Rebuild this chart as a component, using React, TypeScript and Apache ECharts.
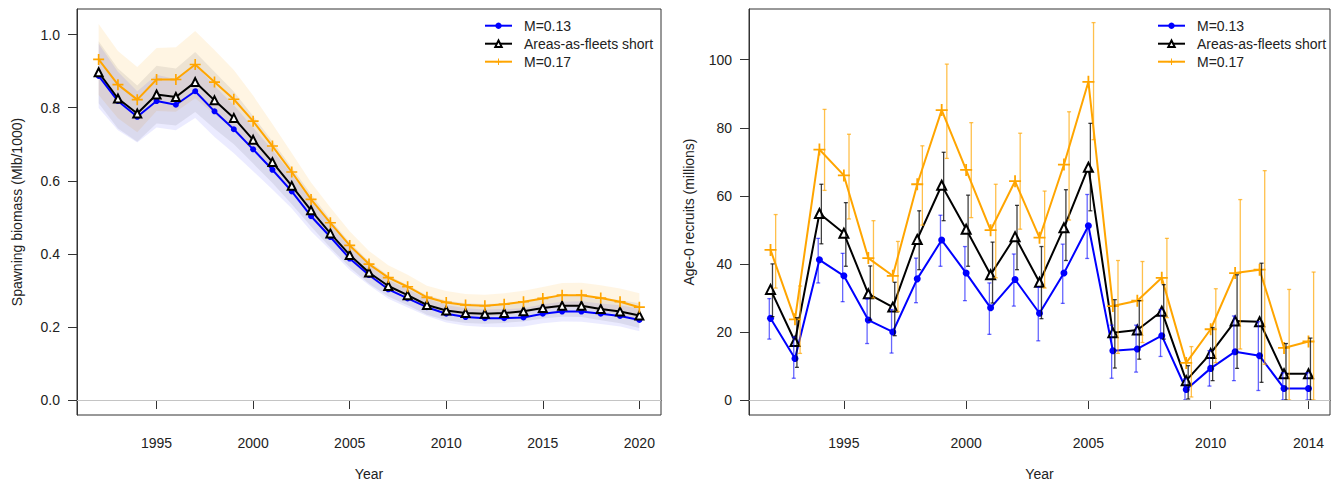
import React, { useEffect, useRef } from "react";
import * as echarts from "echarts";

// ---------- Left panel: spawning biomass ----------
const sbYears = [1992, 1993, 1994, 1995, 1996, 1997, 1998, 1999, 2000, 2001, 2002, 2003, 2004, 2005, 2006, 2007, 2008, 2009, 2010, 2011, 2012, 2013, 2014, 2015, 2016, 2017, 2018, 2019, 2020];
const sbM013 = [0.887, 0.818, 0.775, 0.818, 0.808, 0.845, 0.790, 0.741, 0.686, 0.630, 0.571, 0.503, 0.446, 0.387, 0.342, 0.303, 0.278, 0.254, 0.236, 0.227, 0.224, 0.224, 0.226, 0.236, 0.242, 0.242, 0.236, 0.230, 0.219];
const sbBase = [0.897, 0.825, 0.784, 0.836, 0.829, 0.870, 0.820, 0.772, 0.712, 0.651, 0.586, 0.519, 0.456, 0.397, 0.349, 0.312, 0.287, 0.260, 0.245, 0.238, 0.236, 0.238, 0.243, 0.252, 0.258, 0.258, 0.249, 0.242, 0.231];
const sbM017 = [0.932, 0.863, 0.822, 0.877, 0.877, 0.918, 0.870, 0.823, 0.763, 0.695, 0.624, 0.549, 0.485, 0.423, 0.372, 0.335, 0.310, 0.281, 0.267, 0.260, 0.258, 0.262, 0.269, 0.278, 0.287, 0.287, 0.279, 0.269, 0.254];
// half-widths of the shaded intervals
const sbM013Ci = [0.088, 0.080, 0.070, 0.072, 0.070, 0.073, 0.070, 0.066, 0.060, 0.054, 0.047, 0.041, 0.036, 0.031, 0.028, 0.026, 0.025, 0.024, 0.024, 0.024, 0.024, 0.025, 0.025, 0.026, 0.027, 0.028, 0.028, 0.029, 0.031];
const sbBaseCi = [0.085, 0.082, 0.077, 0.079, 0.078, 0.082, 0.078, 0.072, 0.065, 0.057, 0.050, 0.044, 0.039, 0.034, 0.031, 0.029, 0.028, 0.027, 0.027, 0.027, 0.027, 0.027, 0.028, 0.029, 0.030, 0.031, 0.031, 0.032, 0.034];
const sbM017Ci = [0.097, 0.092, 0.089, 0.086, 0.088, 0.092, 0.088, 0.080, 0.070, 0.060, 0.052, 0.046, 0.042, 0.039, 0.036, 0.034, 0.033, 0.032, 0.031, 0.030, 0.030, 0.030, 0.030, 0.031, 0.033, 0.034, 0.035, 0.036, 0.038];
const sbXTicks = [1995, 2000, 2005, 2010, 2015, 2020];
const sbYTicks = [0, 0.2, 0.4, 0.6, 0.8, 1.0];

// ---------- Right panel: age-0 recruits ----------
const recYears = [1992, 1993, 1994, 1995, 1996, 1997, 1998, 1999, 2000, 2001, 2002, 2003, 2004, 2005, 2006, 2007, 2008, 2009, 2010, 2011, 2012, 2013, 2014];
const recM013 = [24.0, 12.2, 41.2, 36.5, 23.5, 20.0, 35.6, 47.0, 37.3, 27.1, 35.4, 25.5, 37.3, 51.2, 14.5, 15.0, 18.9, 3.1, 9.3, 14.2, 13.0, 3.4, 3.4];
const recM013Lo = [17.9, 6.4, 34.4, 28.9, 16.6, 13.8, 28.6, 39.3, 29.2, 19.3, 27.6, 17.4, 28.4, 41.6, 6.4, 8.2, 12.8, 0, 4.1, 5.7, 2.8, 0, 0];
const recM013Hi = [29.8, 18.5, 47.5, 43.1, 29.7, 26.6, 41.7, 54.3, 45.1, 34.4, 42.9, 33.1, 45.8, 60.4, 22.0, 22.0, 26.6, 6.2, 14.5, 24.7, 23.0, 8.0, 8.0];
const recBase = [32.5, 17.2, 54.8, 49.0, 31.2, 27.3, 47.2, 63.1, 50.2, 36.8, 48.0, 34.6, 50.6, 68.4, 19.8, 20.6, 26.1, 5.7, 13.7, 23.2, 23.0, 7.7, 7.7];
const recBaseLo = [24.5, 9.6, 45.9, 39.3, 23.5, 18.9, 38.3, 52.7, 39.3, 28.5, 38.3, 23.9, 41.0, 55.6, 9.4, 12.0, 17.9, 0.3, 5.7, 9.3, 5.2, 0, 0];
const recBaseHi = [40.0, 24.2, 63.4, 58.0, 39.4, 34.6, 55.6, 72.8, 60.2, 46.4, 57.2, 45.1, 61.8, 81.3, 29.5, 29.2, 33.9, 10.1, 21.3, 36.8, 40.2, 16.6, 18.2];
const recM017 = [44.1, 23.7, 73.6, 66.0, 41.7, 36.5, 63.4, 85.2, 67.6, 49.9, 64.3, 47.7, 69.2, 93.5, 27.6, 29.2, 35.9, 10.9, 20.8, 37.3, 38.3, 15.3, 17.2];
const recM017Lo = [32.9, 13.7, 61.6, 53.2, 30.0, 26.0, 51.4, 71.0, 53.6, 35.9, 50.2, 32.9, 52.9, 76.5, 13.7, 16.9, 24.2, 0.9, 11.0, 15.0, 10.5, 0, 0];
const recM017Hi = [54.5, 33.5, 85.4, 78.1, 52.7, 46.6, 74.7, 98.7, 81.5, 63.4, 78.4, 61.4, 84.7, 110.9, 41.0, 40.7, 47.5, 15.7, 32.7, 58.9, 67.4, 32.5, 37.6];
const recXTicks = [1995, 2000, 2005, 2010, 2014];
const recYTicks = [0, 20, 40, 60, 80, 100];

const seriesNames = ["M=0.13", "Areas-as-fleets short", "M=0.17"];

const BLUE = "#0000ff";
const BLACK = "#000000";
const ORANGE = "#ffa500";
const PLUS = "path://M4.25,0H5.75V4.25H10V5.75H5.75V10H4.25V5.75H0V4.25H4.25Z";
const FONT = "'Liberation Sans', Arial, sans-serif";
const TXT = "#222";

function pairs(xs: number[], ys: number[]) {
  return xs.map((x, i) => [x, ys[i]]);
}

// shaded interval drawn as one polygon through the axis scales
function bandSeries(vals: number[], ci: number[], color: string) {
  return {
    type: "custom",
    name: "band",
    xAxisIndex: 0,
    yAxisIndex: 0,
    silent: true,
    z: 1,
    encode: { x: 0, y: [1, 2] },
    data: sbYears.map((y, i) => [y, vals[i] - ci[i], vals[i] + ci[i]]),
    renderItem: (params: any, api: any) => {
      if (params.dataIndexInside !== 0) return null;
      const n = params.dataInsideLength;
      const top: number[][] = [];
      const bottom: number[][] = [];
      for (let i = 0; i < n; i++) {
        const x = api.value(0, i);
        top.push(api.coord([x, api.value(2, i)]));
        bottom.push(api.coord([x, api.value(1, i)]));
      }
      const points = top.concat(bottom.reverse());
      return {
        type: "polygon",
        shape: { points },
        style: { fill: color, stroke: "none" },
      };
    },
  };
}

function errorBars(lo: number[], hi: number[], offset: number, color: string) {
  return {
    type: "custom",
    name: "err",
    xAxisIndex: 1,
    yAxisIndex: 1,
    silent: true,
    z: 4,
    encode: { x: 0, y: [1, 2] },
    data: recYears.map((y, i) => [y + offset, lo[i], hi[i]]),
    renderItem: (params: any, api: any) => {
      const x = api.value(0);
      const p1 = api.coord([x, api.value(1)]);
      const p2 = api.coord([x, api.value(2)]);
      const cap = 2;
      const st = { stroke: color, lineWidth: 1.3 };
      return {
        type: "group",
        children: [
          { type: "line", shape: { x1: p1[0], y1: p1[1], x2: p2[0], y2: p2[1] }, style: st },
          { type: "line", shape: { x1: p1[0] - cap, y1: p1[1], x2: p1[0] + cap, y2: p1[1] }, style: st },
          { type: "line", shape: { x1: p2[0] - cap, y1: p2[1], x2: p2[0] + cap, y2: p2[1] }, style: st },
        ],
      };
    },
  };
}

const zeroLine = {
  silent: true,
  symbol: ["none", "none"],
  label: { show: false },
  lineStyle: { color: "#c4c4c4", width: 1, type: "solid" },
  data: [{ yAxis: 0 }],
};

function xAxis(gridIndex: number, min: number, max: number, ticks: number[]) {
  return {
    type: "value",
    gridIndex,
    min,
    max,
    name: "Year",
    nameLocation: "middle",
    nameGap: 52,
    nameTextStyle: { fontSize: 14, color: TXT, fontFamily: FONT },
    axisLine: { show: true, lineStyle: { color: "#333", width: 1 } },
    axisTick: { show: true, length: 9, customValues: ticks, lineStyle: { color: "#333" } },
    axisLabel: {
      customValues: ticks,
      margin: 21,
      fontSize: 14,
      color: TXT,
      fontFamily: FONT,
      formatter: (v: number) => String(Math.round(v)),
    },
    splitLine: { show: false },
  };
}

function yAxis(gridIndex: number, min: number, max: number, ticks: number[], name: string, digits: number) {
  return {
    type: "value",
    gridIndex,
    min,
    max,
    name,
    nameLocation: "middle",
    nameGap: 53,
    nameTextStyle: { fontSize: 14, color: TXT, fontFamily: FONT },
    axisLine: { show: true, lineStyle: { color: "#333", width: 1 } },
    axisTick: { show: true, length: 9, customValues: ticks, lineStyle: { color: "#333" } },
    axisLabel: {
      customValues: ticks,
      margin: 17,
      fontSize: 14,
      color: TXT,
      fontFamily: FONT,
      formatter: (v: number) => v.toFixed(digits),
    },
    splitLine: { show: false },
  };
}

function legend(left: number) {
  return {
    data: seriesNames,
    left,
    top: 18.7,
    padding: 0,
    orient: "vertical",
    itemWidth: 27,
    itemHeight: 8,
    itemGap: 4,
    selectedMode: false,
    textStyle: { fontSize: 14, color: TXT, fontFamily: FONT, padding: [0, 0, 0, 7] },
  };
}

function lineSeries(
  name: string,
  axis: number,
  xs: number[],
  ys: number[],
  color: string,
  symbol: string,
  size: number,
  extra: any = {}
) {
  const isEmpty = symbol.indexOf("empty") === 0;
  return {
    type: "line",
    name,
    xAxisIndex: axis,
    yAxisIndex: axis,
    data: pairs(xs, ys),
    symbol,
    symbolSize: size,
    showSymbol: true,
    lineStyle: { color, width: 2 },
    itemStyle: isEmpty ? { color, borderColor: color, borderWidth: 1.3 } : { color, borderWidth: 0 },
    emphasis: { disabled: true },
    silent: true,
    z: 3,
    ...extra,
  };
}

export default function App() {
  const ref = useRef<HTMLDivElement>(null);

  useEffect(() => {
    if (!ref.current) return;
    const chart = echarts.init(ref.current, null, { renderer: "svg" });
    const option = {
      animation: false,
      backgroundColor: "#ffffff",
      textStyle: { fontFamily: FONT },
      grid: [
        { left: 77, top: 9, width: 584, height: 409, show: true, borderColor: "#333", borderWidth: 1, backgroundColor: "transparent", containLabel: false },
        { left: 749, top: 9, width: 581, height: 409, show: true, borderColor: "#333", borderWidth: 1, backgroundColor: "transparent", containLabel: false },
      ],
      xAxis: [xAxis(0, 1990.88, 2021.12, sbXTicks), xAxis(1, 1991.12, 2014.88, recXTicks)],
      yAxis: [
        yAxis(0, -0.041, 1.07, sbYTicks, "Spawning biomass (Mlb/1000)", 1),
        yAxis(1, -4.4, 114.9, recYTicks, "Age-0 recruits (millions)", 0),
      ],
      legend: [legend(484), legend(1157)],
      series: [
        bandSeries(sbM017, sbM017Ci, "rgba(255,165,0,0.11)"),
        bandSeries(sbBase, sbBaseCi, "rgba(0,0,0,0.07)"),
        bandSeries(sbM013, sbM013Ci, "rgba(0,0,255,0.08)"),
        lineSeries(seriesNames[0], 0, sbYears, sbM013, BLUE, "circle", 6, { markLine: zeroLine }),
        lineSeries(seriesNames[1], 0, sbYears, sbBase, BLACK, "emptyTriangle", 8),
        lineSeries(seriesNames[2], 0, sbYears, sbM017, ORANGE, PLUS, 11),
        lineSeries(seriesNames[0], 1, recYears, recM013, BLUE, "circle", 7, { markLine: zeroLine }),
        lineSeries(seriesNames[1], 1, recYears, recBase, BLACK, "emptyTriangle", 9),
        lineSeries(seriesNames[2], 1, recYears, recM017, ORANGE, PLUS, 12),
        errorBars(recM013Lo, recM013Hi, -0.05, "rgba(0,0,255,0.6)"),
        errorBars(recBaseLo, recBaseHi, 0.08, "rgba(0,0,0,0.75)"),
        errorBars(recM017Lo, recM017Hi, 0.21, "rgba(255,165,0,0.7)"),
      ],
    };
    chart.setOption(option as any);
    return () => chart.dispose();
  }, []);

  return (
    <div
      ref={ref}
      style={{ position: "absolute", left: 0, top: 0, width: 1334, height: 486, background: "#fff" }}
    />
  );
}
